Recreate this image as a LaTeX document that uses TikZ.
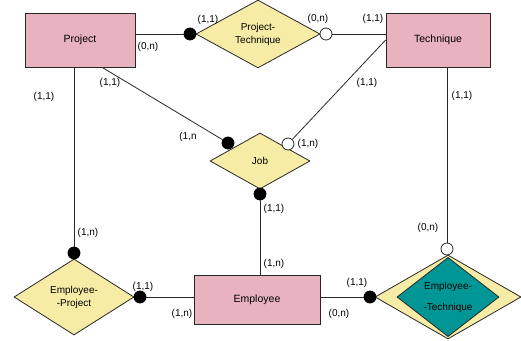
\documentclass[tikz,border=0pt]{standalone}
\usepackage{fontspec}
\setmainfont{Liberation Sans}
\usetikzlibrary{shapes.geometric}
\definecolor{entpink}{RGB}{232,178,190}
\definecolor{relyellow}{RGB}{246,236,166}
\definecolor{relteal}{RGB}{0,150,150}
\definecolor{linegray}{RGB}{40,40,40}

\begin{document}
\begin{tikzpicture}[x=1pt,y=-1pt,line width=0.8pt,
  entity/.style={draw=linegray,fill=entpink,inner sep=0pt,font=\fontsize{10.5}{12}\selectfont},
  rel/.style={draw=linegray,diamond,fill=relyellow,inner sep=0pt,align=center,font=\fontsize{10}{13}\selectfont},
  fdot/.style={circle,draw=black,fill=black,minimum size=12pt,inner sep=0pt},
  odot/.style={circle,draw=linegray,fill=white,minimum size=12pt,inner sep=0pt},
  card/.style={inner sep=0pt,font=\fontsize{10}{11}\selectfont}]
\useasboundingbox (0,0) rectangle (521,340);

%Entities
\node[entity,minimum width=110pt,minimum height=54pt] (project) at (80,40) {Project};
\node[entity,minimum width=104pt,minimum height=54pt] (technique) at (438,40) {Technique};
\node[entity,minimum width=126pt,minimum height=49pt] (employee) at (257,299.5) {Employee};

%Relationships
\node[rel,minimum width=124pt,minimum height=58pt] (projtech) at (258,34) {Project-\\Technique};
\node[rel,minimum width=100pt,minimum height=56pt] (job) at (260,161) {Job};
\node[rel,minimum width=120pt,minimum height=76pt] (empproj) at (74,297) {Employee-\\-Project};
\node[rel,minimum width=146pt,minimum height=84pt] (emptechout) at (448,297) {};
\node[rel,fill=relteal,minimum width=102pt,minimum height=66pt,font=\fontsize{10}{21}\selectfont] (emptech) at (448,297) {Employee-\\-Technique};

%Participation marks
\node[fdot] (dotPT) at (190,34) {};
\node[odot] (opnPT) at (326,34) {};
\node[fdot] (dotJP) at (228,143) {};
\node[odot] (opnJT) at (288,144) {};
\node[fdot] (dotJE) at (260,194) {};
\node[fdot] (dotEPp) at (74,253) {};
\node[fdot] (dotEPe) at (140,297) {};
\node[fdot] (dotET) at (370,297) {};
\node[odot] (opnET) at (447,249) {};

%Connectors
\draw[linegray] (dotPT -| project.east) -- (dotPT);
\draw[linegray] (opnPT) -- (opnPT -| technique.west);
\draw[linegray] (project.-51) -- (dotJP);
\draw[linegray] (technique.west) -- (opnJT);
\draw[linegray] (dotJE) -- (dotJE |- employee.north);
\draw[linegray] (dotEPp |- project.south) -- (dotEPp);
\draw[linegray] (dotEPe) -- (dotEPe -| employee.west);
\draw[linegray] (employee.east |- dotET) -- (dotET);
\draw[linegray] (opnET |- technique.south) -- (opnET);

% Text Node
\node[card] (cPTa) at (208,20) {(1,1)};
\node[card] (cPTb) at (148,47) {(0,n)};
\node[card] (cPTc) at (318,19) {(0,n)};
\node[card] (cPTd) at (373,19) {(1,1)};
\node[card] (cEPa) at (44,97) {(1,1)};
\node[card] (cJPa) at (110,83) {(1,1)};
\node[card] (cJPb) at (188,137) {(1,n};
\node[card] (cJTa) at (367,83) {(1,1)};
\node[card] (cJTb) at (308,144) {(1,n)};
\node[card] (cETa) at (462,96) {(1,1)};
\node[card] (cJEa) at (274,209) {(1,1)};
\node[card] (cJEb) at (274,264) {(1,n)};
\node[card] (cEPb) at (88,233) {(1,n)};
\node[card] (cEPc) at (143,287) {(1,1)};
\node[card] (cEPd) at (182,314) {(1,n)};
\node[card] (cETb) at (357,283) {(1,1)};
\node[card] (cETc) at (339,314) {(0,n)};
\node[card] (cETd) at (428,228) {(0,n)};

\end{tikzpicture}
\end{document}
